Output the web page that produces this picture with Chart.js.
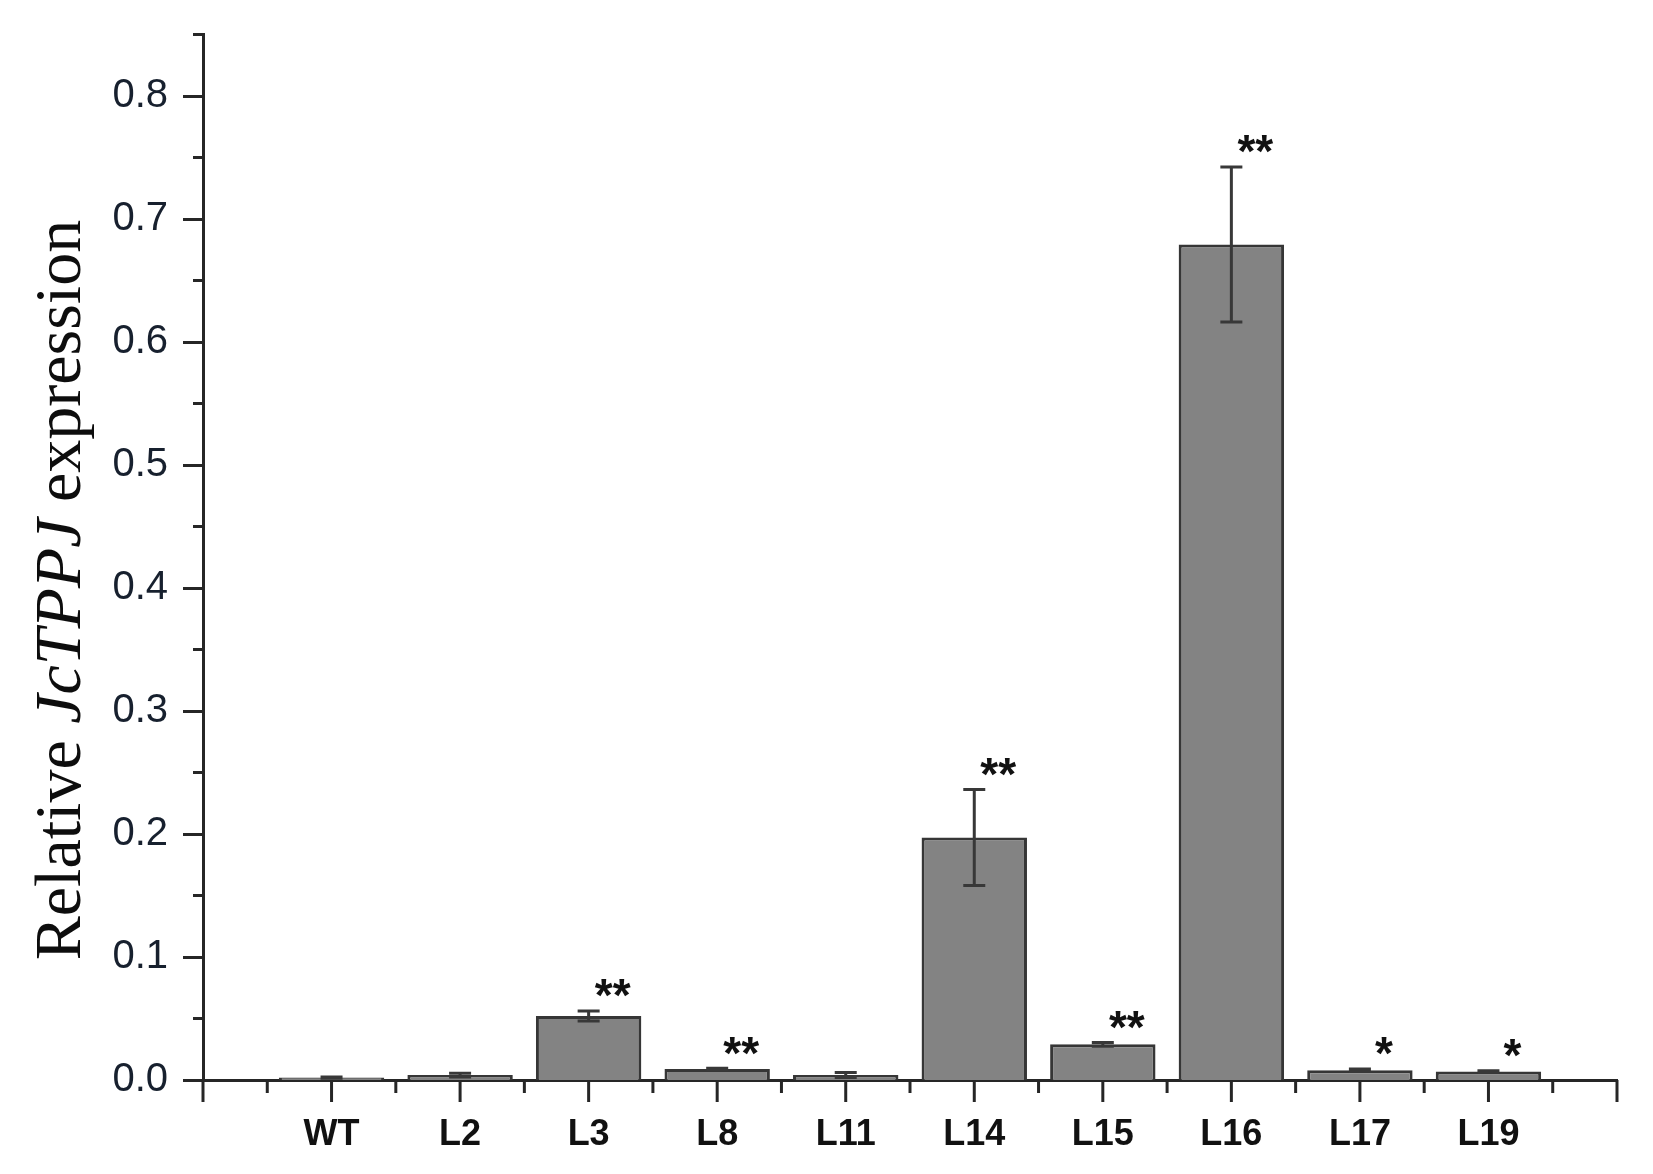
<!DOCTYPE html>
<html>
<head>
<meta charset="utf-8">
<script src="https://cdn.jsdelivr.net/npm/chart.js@4.4.0/dist/chart.umd.min.js"></script>
<style>
  html, body { margin: 0; padding: 0; background: #ffffff; }
  #wrap { width: 1653px; height: 1174px; position: relative; }
  canvas { display: block; }
</style>
</head>
<body>
<div id="wrap"><canvas id="c" width="1653" height="1174"></canvas></div>
<script>
// ---- data ----
const categories   = ['WT', 'L2', 'L3', 'L8', 'L11', 'L14', 'L15', 'L16', 'L17', 'L19'];
const expression   = [0.002, 0.004, 0.052, 0.009, 0.004, 0.197, 0.029, 0.679, 0.008, 0.007];
const errors       = [0.0005, 0.0015, 0.004, 0.0005, 0.002, 0.039, 0.0015, 0.063, 0.001, 0.0005];
const significance = ['', '', '**', '**', '', '**', '**', '**', '*', '*'];
const yTickLabels  = ['0.0', '0.1', '0.2', '0.3', '0.4', '0.5', '0.6', '0.7', '0.8'];
const yMax = 0.85;
const yMinorStep = 0.05;

// padded category axis (one empty slot each side, as in the reference)
const labels = [''].concat(categories, ['']);
const barData = [null].concat(expression, [null]);
const errData = [null].concat(errors, [null]);
const sigData = [''].concat(significance, ['']);

const AXIS = '#262626';

const decorPlugin = {
  id: 'decor',
  afterDatasetsDraw(chart) {
    const ctx = chart.ctx;
    const xs = chart.scales.x, ys = chart.scales.y;
    ctx.save();
    // error bars
    ctx.strokeStyle = '#383838';
    ctx.lineWidth = 3;
    for (let i = 0; i < barData.length; i++) {
      if (barData[i] == null) continue;
      const x = xs.getPixelForValue(i);
      const yTop = ys.getPixelForValue(barData[i] + errData[i]);
      const yBot = ys.getPixelForValue(Math.max(0, barData[i] - errData[i]));
      ctx.beginPath();
      ctx.moveTo(x, yTop); ctx.lineTo(x, yBot);
      ctx.moveTo(x - 11, yTop); ctx.lineTo(x + 11, yTop);
      ctx.moveTo(x - 11, yBot); ctx.lineTo(x + 11, yBot);
      ctx.stroke();
    }
    // significance stars
    ctx.fillStyle = '#111';
    const fs = 46;
    ctx.font = 'bold ' + fs + 'px "Liberation Sans", Arial, sans-serif';
    ctx.textAlign = 'center';
    ctx.textBaseline = 'alphabetic';
    for (let i = 0; i < sigData.length; i++) {
      if (!sigData[i]) continue;
      const x = xs.getPixelForValue(i) + 24;
      const yTop = ys.getPixelForValue(barData[i] + errData[i]);
      const cy = yTop - 26;
      ctx.fillText(sigData[i], x, cy + 0.57 * fs);
    }
    ctx.restore();
  },
  afterDraw(chart) {
    const ctx = chart.ctx;
    const xs = chart.scales.x, ys = chart.scales.y;
    const area = chart.chartArea;
    ctx.save();
    ctx.strokeStyle = AXIS;
    ctx.lineWidth = 3;
    ctx.lineCap = 'butt';
    // y ticks (major every 0.1, minor every 0.05)
    const n = Math.round(yMax / yMinorStep);
    for (let k = 0; k <= n; k++) {
      const v = k * yMinorStep;
      const y = Math.round(ys.getPixelForValue(v)) + 0.5;
      const len = (k % 2 === 0) ? 20 : 10;
      ctx.beginPath();
      ctx.moveTo(area.left - len, y); ctx.lineTo(area.left, y);
      ctx.stroke();
    }
    // x ticks (major at categories, minor in between)
    for (let i = 0; i < labels.length; i++) {
      const x = xs.getPixelForValue(i);
      ctx.beginPath();
      ctx.moveTo(x, area.bottom); ctx.lineTo(x, area.bottom + 22);
      ctx.stroke();
      if (i < labels.length - 1) {
        const xm = (x + xs.getPixelForValue(i + 1)) / 2;
        ctx.beginPath();
        ctx.moveTo(xm, area.bottom); ctx.lineTo(xm, area.bottom + 13);
        ctx.stroke();
      }
    }
    // y-axis title with italic gene name
    const parts = [
      { t: 'Relative ', f: '66px "Liberation Serif", "Times New Roman", serif' },
      { t: 'JcTPPJ', f: 'italic 66px "Liberation Serif", "Times New Roman", serif' },
      { t: ' expression', f: '66px "Liberation Serif", "Times New Roman", serif' }
    ];
    let total = 0;
    parts.forEach(p => { ctx.font = p.f; p.w = ctx.measureText(p.t).width; total += p.w; });
    ctx.translate(80, 590);
    ctx.rotate(-Math.PI / 2);
    ctx.fillStyle = '#0d0d0d';
    ctx.textBaseline = 'alphabetic';
    ctx.textAlign = 'left';
    let xpos = -total / 2;
    parts.forEach(p => { ctx.font = p.f; ctx.fillText(p.t, xpos, 0); xpos += p.w; });
    ctx.restore();
  }
};

new Chart(document.getElementById('c'), {
  type: 'bar',
  data: {
    labels: labels,
    datasets: [{
      data: barData,
      backgroundColor: '#838383',
      borderColor: '#363636',
      borderWidth: 3,
      categoryPercentage: 1.0,
      barPercentage: 0.82
    }]
  },
  options: {
    responsive: false,
    animation: false,
    devicePixelRatio: 1,
    layout: { padding: { left: 0, right: 36, top: 34, bottom: 0 } },
    plugins: { legend: { display: false }, tooltip: { enabled: false } },
    scales: {
      x: {
        type: 'category',
        offset: false,
        grid: { display: false, drawTicks: false },
        border: { display: true, color: AXIS, width: 3 },
        ticks: {
          autoSkip: false,
          maxRotation: 0,
          padding: 33,
          color: '#111',
          font: { family: '"Liberation Sans", Arial, sans-serif', size: 36, weight: 'bold' }
        },
        afterFit(s) { s.height = 94; s.paddingLeft = 0; s.paddingRight = 0; }
      },
      y: {
        min: 0,
        max: yMax,
        grid: { display: false, drawTicks: false },
        border: { display: true, color: AXIS, width: 3 },
        ticks: {
          stepSize: yMinorStep,
          padding: 35,
          color: '#17202e',
          font: { family: '"Liberation Sans", Arial, sans-serif', size: 40 },
          callback: function (v) {
            const k = Math.round(v / 0.1 * 1000) / 1000;
            return Number.isInteger(k) && k < yTickLabels.length ? yTickLabels[k] : '';
          }
        },
        afterFit(s) { s.width = 203; s.paddingTop = 0; s.paddingBottom = 0; }
      }
    }
  },
  plugins: [decorPlugin]
});
</script>
</body>
</html>
